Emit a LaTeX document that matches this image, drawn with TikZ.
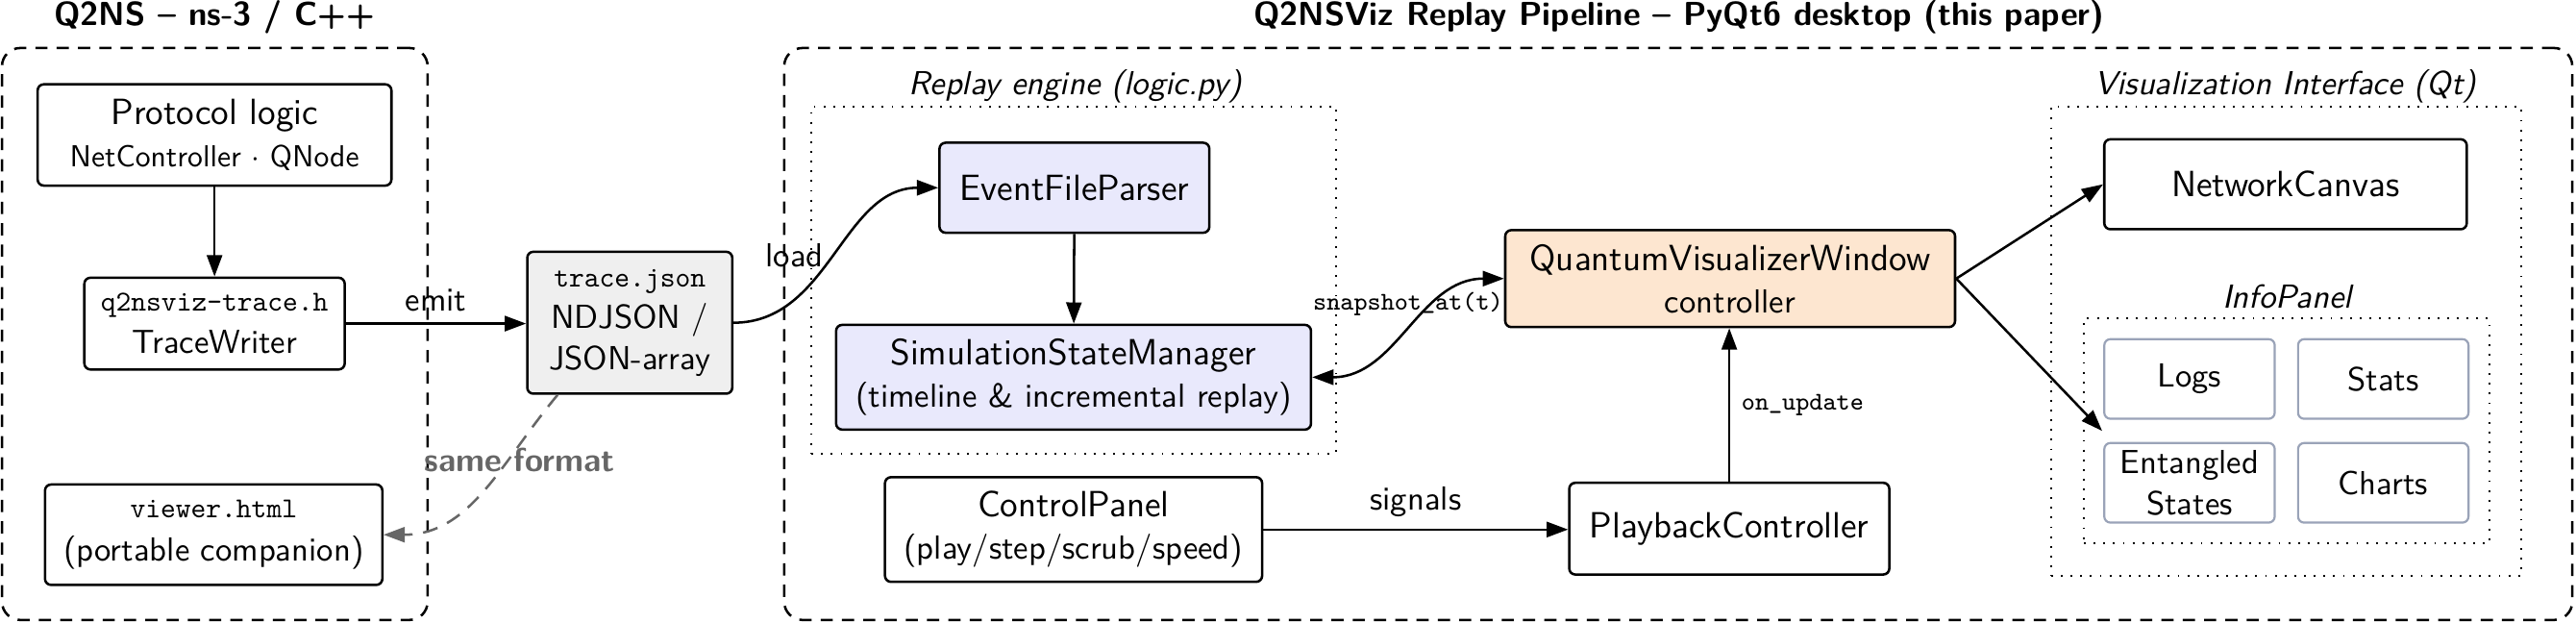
\documentclass[tikz,border=0pt,11pt]{standalone}
\usepackage{tikz}
\usetikzlibrary{arrows.meta}
\renewcommand{\familydefault}{\sfdefault}
\definecolor{parsefill}{HTML}{E9E9FC}
\definecolor{winfill}{HTML}{FDE6D0}
\definecolor{tracefill}{HTML}{EFEFEF}
\definecolor{panelline}{HTML}{9AA3B8}
\definecolor{fmtgray}{HTML}{666666}
\newcommand{\codefont}{\fontsize{9.5}{11}\selectfont\ttfamily}
\newcommand{\edgecode}{\fontsize{8.4}{10}\selectfont\ttfamily}

\begin{document}
\begin{tikzpicture}[
    >={Triangle[length=7pt,width=5pt]},
    box/.style={draw, thick, rounded corners=2pt, align=center, font=\large, inner sep=1pt},
    panel/.style={draw=panelline, line width=0.7pt, rounded corners=2pt, align=center,
      minimum width=1.97cm, minimum height=0.92cm, inner sep=1pt},
    container/.style={draw, thick, dash pattern=on 4pt off 3pt, rounded corners=6pt},
    zone/.style={draw, line width=0.6pt, dash pattern=on 0.6pt off 2.6pt},
    heading/.style={font=\bfseries, anchor=base},
    grouplabel/.style={font=\itshape, anchor=base},
    link/.style={->, thick},
  ]
  \useasboundingbox (0,0) rectangle (29.778,7.2);

  % outer frames
  \node[container, minimum width=4.92cm, minimum height=6.61cm] (q2ns) at (2.483,3.34) {};
  \node[container, minimum width=20.67cm, minimum height=6.61cm] (viz) at (19.4,3.34) {};
  \node[heading] (q2nstitle) at (2.48,6.9) {Q2NS – ns-3 / C++};
  \node[heading] (viztitle) at (19.41,6.9) {Q2NSViz Replay Pipeline – PyQt6 desktop (this paper)};

  % dotted groups
  \node[zone, minimum width=6.06cm, minimum height=4.01cm] (engine) at (12.41,3.965) {};
  \node[zone, minimum width=5.43cm, minimum height=5.43cm] (ui) at (26.425,3.255) {};
  \node[zone, minimum width=4.69cm, minimum height=2.6cm] (info) at (26.435,2.22) {};
  \node[grouplabel] (enginetitle) at (12.43,6.1) {Replay engine (logic.py)};
  \node[grouplabel] (uititle) at (26.42,6.1) {Visualization Interface (Qt)};
  \node[grouplabel] (infotitle) at (26.44,3.64) {InfoPanel};

  % Q2NS side
  \node[box, minimum width=4.09cm, minimum height=1.17cm] (proto) at (2.48,5.64)
    {Protocol logic\\{\small NetController $\cdot$ QNode}};
  \node[box, minimum width=3.01cm, minimum height=1.06cm] (tw) at (2.48,3.46)
    {{\codefont q2nsviz-trace.h}\\{\normalsize TraceWriter}};
  \node[box, minimum width=3.9cm, minimum height=1.16cm] (viewer) at (2.47,1.02)
    {{\codefont viewer.html}\\{\normalsize (portable companion)}};
  \node[box, fill=tracefill, font=\normalsize, minimum width=2.37cm, minimum height=1.64cm] (trace) at (7.28,3.47)
    {{\codefont trace.json}\\NDJSON /\\JSON-array};

  % replay engine
  \node[box, fill=parsefill, minimum width=3.12cm, minimum height=1.04cm] (efp) at (12.42,5.03) {EventFileParser};
  \node[box, fill=parsefill, minimum width=5.49cm, minimum height=1.21cm] (ssm) at (12.41,2.84)
    {SimulationStateManager\\{\normalsize (timeline \& incremental replay)}};
  \node[box, minimum width=4.36cm, minimum height=1.21cm] (ctrl) at (12.41,1.08)
    {ControlPanel\\{\normalsize (play/step/scrub/speed)}};
  \node[box, minimum width=3.7cm, minimum height=1.06cm] (play) at (19.99,1.09) {PlaybackController};
  \node[box, fill=winfill, minimum width=5.2cm, minimum height=1.12cm] (qvw) at (20.0,3.98)
    {QuantumVisualizerWindow\\{\normalsize controller}};

  % visualization side
  \node[box, minimum width=4.19cm, minimum height=1.04cm] (canvas) at (26.42,5.07) {NetworkCanvas};
  \node[panel] (logs) at (25.31,2.82) {Logs};
  \node[panel] (stats) at (27.55,2.82) {Stats};
  \node[panel] (ent) at (25.31,1.62) {Entangled\\States};
  \node[panel] (charts) at (27.55,1.62) {Charts};
  \coordinate (infoin) at (24.3,2.22);

  % connectors
  \draw[link] (proto) -- (tw);
  \draw[link] (tw.east) -- (tw.east -| trace.west) node[midway, above] {emit};
  \draw[link] (trace.east) to[out=0, in=180] node[left] {load} (efp.west);
  \draw[link, draw=fmtgray, dash pattern=on 5pt off 3.5pt] (trace.225) to[out=-130, in=0]
    node[pos=0.33, xshift=4pt, font=\bfseries, text=fmtgray] {same format} (viewer.east);
  \draw[link] (efp) -- (ssm);
  \draw[link, <->] (ssm.east) to[out=0, in=180] node[above, font=\edgecode] {snapshot\_at(t)} (qvw.west);
  \draw[link] (ctrl.east) -- (ctrl.east -| play.west) node[midway, above] {signals};
  \draw[link] (play.north) -- (play.north |- qvw.south) node[midway, right, font=\edgecode] {on\_update};
  \draw[link] (qvw.east) -- (canvas.west);
  \draw[link] (qvw.east) -- (infoin);
\end{tikzpicture}
\end{document}
